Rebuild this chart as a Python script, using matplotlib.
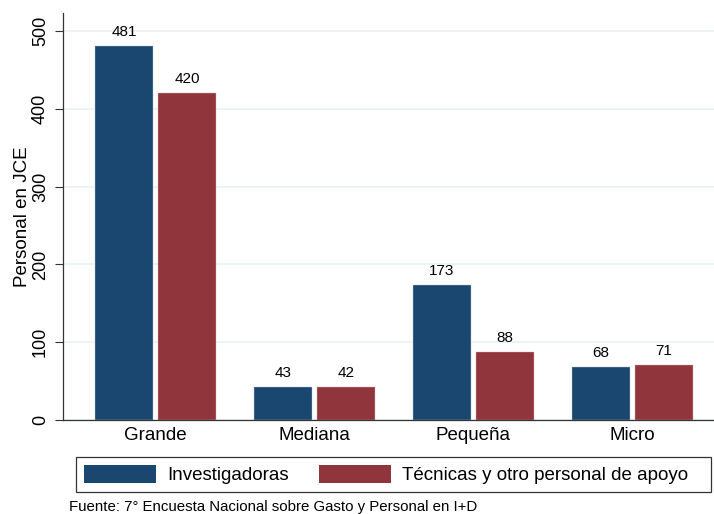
import numpy as np
import matplotlib.pyplot as plt
from matplotlib.patches import Patch, Rectangle

plt.rcParams['font.family'] = ['Liberation Sans', 'DejaVu Sans']

# datos
categorias = ["Grande", "Mediana", "Pequeña", "Micro"]
investigadoras = [481, 43, 173, 68]
tecnicas = [420, 42, 88, 71]
series_labels = ["Investigadoras", "Técnicas y otro personal de apoyo"]

col_inv = "#1a476f"
col_tec = "#90353b"

W, H = 714, 514
fig = plt.figure(figsize=(W / 100, H / 100), dpi=100)
ax = fig.add_axes([63 / W, 1 - 420 / H, (714 - 63) / W, (420 - 12.7) / H])

x = np.arange(len(categorias))
bw = 0.365
off = 0.198
b1 = ax.bar(x - off, investigadoras, bw, color=col_inv, edgecolor="#b8c6d2", linewidth=0.3)
b2 = ax.bar(x + off, tecnicas, bw, color=col_tec, edgecolor="#d3b4b7", linewidth=0.3)

for bars in (b1, b2):
    for r in bars:
        ax.annotate(f"{int(r.get_height())}", (r.get_x() + r.get_width() / 2, r.get_height()),
                    xytext=(0, 5), textcoords="offset points", ha="center", va="bottom",
                    fontsize=11)

ax.set_xlim(-0.582, 3.513)
ax.set_ylim(0, 523.6)
ax.set_yticks([0, 100, 200, 300, 400, 500])
ax.set_yticklabels(["0", "100", "200", "300", "400", "500"], rotation=90, va="center", fontsize=13)
ax.set_xticks(x)
ax.set_xticklabels(categorias, fontsize=13.5)
ax.tick_params(axis="x", length=0, pad=5)
ax.tick_params(axis="y", length=6, width=0.8, color="#333333", pad=4)
ax.set_ylabel("Personal en JCE", fontsize=13.5, labelpad=1)

ax.grid(axis="y", color="#eaf2f3", linewidth=1.2)
ax.set_axisbelow(True)
for s in ("top", "right"):
    ax.spines[s].set_visible(False)
for s in ("left", "bottom"):
    ax.spines[s].set_color("#333333")
    ax.spines[s].set_linewidth(0.9)

# leyenda con marco propio
fig.patches.append(Rectangle((76 / W, 1 - 492 / H), 635 / W, 35 / H, transform=fig.transFigure,
                             facecolor="white", edgecolor="#333333", linewidth=0.9, zorder=1))
handles = [Patch(facecolor=col_inv), Patch(facecolor=col_tec)]
leg = fig.legend(handles, series_labels, ncol=2, loc="center left",
                 bbox_to_anchor=(84 / W, 1 - 474.5 / H), fontsize=13.5, frameon=False,
                 handlelength=3.84, handleheight=1.07, handletextpad=0.6,
                 columnspacing=1.6, borderpad=0, borderaxespad=0)
leg.set_zorder(2)

fig.text(69 / W, 1 - 507.5 / H, "Fuente: 7° Encuesta Nacional sobre Gasto y Personal en I+D",
         fontsize=10.8, va="center", ha="left")

fig.savefig("out.png", dpi=100)
